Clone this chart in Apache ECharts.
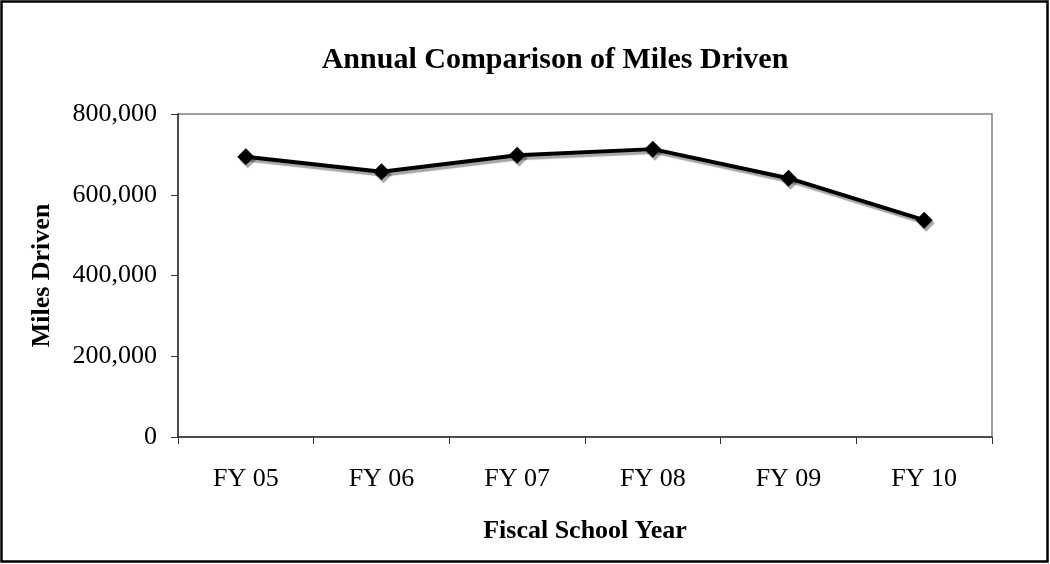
<!DOCTYPE html>
<html>
<head>
<meta charset="utf-8">
<script src="https://cdn.jsdelivr.net/npm/echarts@6/dist/echarts.min.js"></script>
<style>
  html, body { margin: 0; padding: 0; background: #fff; }
  #chart { width: 1050px; height: 564px; }
</style>
</head>
<body>
<div id="chart"></div>
<script>
// fiscal years along the x axis
const years = ["FY 05", "FY 06", "FY 07", "FY 08", "FY 09", "FY 10"];
// miles driven per year
const miles = [694000, 657000, 698000, 713000, 641000, 537000];
// y axis range
const yMin = 0;
const yMax = 800000;
const yStep = 200000;

const serif = "'Liberation Serif', 'Times New Roman', serif";

let myChart = echarts.init(document.getElementById("chart"));

let option = {
  animation: false,
  backgroundColor: "#fff",
  title: {
    text: "Annual Comparison of Miles Driven",
    left: 550,
    textAlign: "center",
    top: 40,
    textStyle: {
      fontFamily: serif,
      fontWeight: "bold",
      fontSize: 30,
      color: "#000",
    },
  },
  grid: {
    left: 178,
    right: 58,
    top: 114,
    bottom: 127,
    show: true,
    borderColor: "#808080",
    borderWidth: 1.5,
  },
  // outer frame of the chart
  graphic: [
    {
      type: "rect",
      shape: { x: 1.5, y: 1.5, width: 1046, height: 560 },
      style: { fill: null, stroke: "#000", lineWidth: 2.5 },
      silent: true,
    },
  ],
  xAxis: {
    type: "category",
    data: years,
    boundaryGap: true,
    name: "Fiscal School Year",
    nameLocation: "middle",
    nameGap: 81,
    nameTextStyle: {
      fontFamily: serif,
      fontWeight: "bold",
      fontSize: 26,
      color: "#000",
    },
    axisLine: { show: true, lineStyle: { color: "#333", width: 1.5 } },
    axisTick: { show: true, length: 7, lineStyle: { color: "#333" } },
    axisLabel: {
      fontFamily: serif,
      fontSize: 26,
      color: "#000",
      margin: 29,
    },
    splitLine: { show: false },
  },
  yAxis: {
    type: "value",
    min: yMin,
    max: yMax,
    interval: yStep,
    name: "Miles Driven",
    nameLocation: "middle",
    nameGap: 123,
    nameTextStyle: {
      fontFamily: serif,
      fontWeight: "bold",
      fontSize: 26,
      color: "#000",
    },
    axisLine: { show: true, lineStyle: { color: "#333", width: 1.5 } },
    axisTick: { show: true, length: 7, lineStyle: { color: "#333" } },
    axisLabel: {
      fontFamily: serif,
      fontSize: 26,
      color: "#000",
      margin: 21,
      formatter: (v) => v.toLocaleString("en-US"),
    },
    splitLine: { show: false },
  },
  series: [
    {
      name: "Miles Driven",
      type: "line",
      data: miles,
      symbol: "diamond",
      symbolSize: 17,
      lineStyle: {
        color: "#000",
        width: 4,
        shadowColor: "rgba(0,0,0,0.35)",
        shadowOffsetX: 2,
        shadowOffsetY: 3,
        shadowBlur: 1,
      },
      itemStyle: {
        color: "#000",
        borderWidth: 0,
        shadowColor: "rgba(0,0,0,0.35)",
        shadowOffsetX: 2,
        shadowOffsetY: 3,
        shadowBlur: 1,
      },
    },
  ],
};

myChart.setOption(option);
</script>
</body>
</html>
